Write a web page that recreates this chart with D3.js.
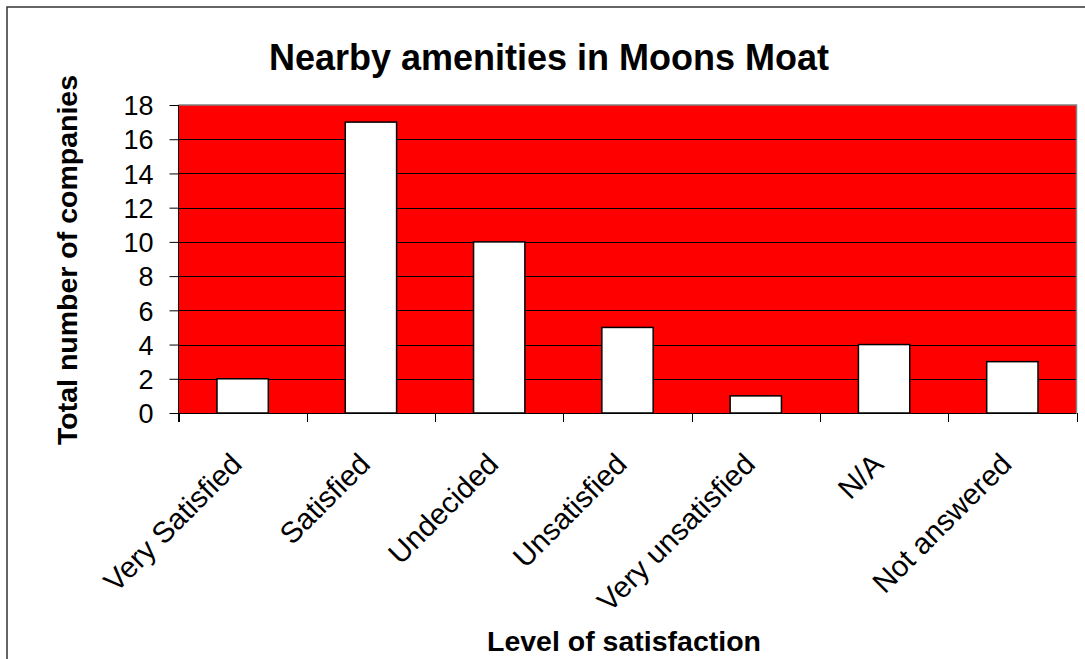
<!DOCTYPE html>
<html>
<head>
<meta charset="utf-8">
<script src="https://cdn.jsdelivr.net/npm/d3@7"></script>
<style>
  html, body { margin: 0; padding: 0; background: #fff; }
  svg { display: block; font-family: Arial, "Liberation Sans", sans-serif; }
</style>
</head>
<body>
<svg id="chart" width="1085" height="659"></svg>
<script>
const categories = ["Very Satisfied", "Satisfied", "Undecided", "Unsatisfied", "Very unsatisfied", "N/A", "Not answered"];
const values = [2, 17, 10, 5, 1, 4, 3];
const yTicks = [0, 2, 4, 6, 8, 10, 12, 14, 16, 18];
const chartTitle = "Nearby amenities in Moons Moat";
const xTitle = "Level of satisfaction";
const yTitle = "Total number of companies";

const svg = d3.select("#chart");
const plot = { left: 178.5, right: 1076.5, top: 105, bottom: 413 };

// outer border
svg.append("rect")
  .attr("x", 7).attr("y", 7)
  .attr("width", 1100).attr("height", 700)
  .attr("fill", "#fff").attr("stroke", "#333").attr("stroke-width", 1.5);

const x = d3.scaleBand().domain(categories).range([plot.left, plot.right]).paddingInner(0.6).paddingOuter(0.3);
const xb = d3.scaleBand().domain(categories).range([plot.left, plot.right]);
const y = d3.scaleLinear().domain([0, 18]).range([plot.bottom, plot.top]);

// plot area background
svg.append("rect")
  .attr("x", plot.left).attr("y", plot.top)
  .attr("width", plot.right - plot.left).attr("height", plot.bottom - plot.top)
  .attr("fill", "#FF0000");

// grid lines
svg.append("g").selectAll("line").data(yTicks.filter(d => d > 0 && d < 18)).join("line")
  .attr("x1", plot.left).attr("x2", plot.right)
  .attr("y1", d => Math.round(y(d)) + 0.5).attr("y2", d => Math.round(y(d)) + 0.5)
  .attr("stroke", "#000").attr("stroke-width", 1);

// plot border top/right (grey)
svg.append("path")
  .attr("d", `M${plot.left},${plot.top}H${plot.right}V${plot.bottom}`)
  .attr("fill", "none").attr("stroke", "#808080").attr("stroke-width", 1.5);

// bars
svg.append("g").selectAll("rect").data(values).join("rect")
  .attr("x", (d, i) => x(categories[i]))
  .attr("width", x.bandwidth())
  .attr("y", d => y(d))
  .attr("height", d => y(0) - y(d))
  .attr("fill", "#fff").attr("stroke", "#000").attr("stroke-width", 1.5);

// y axis
const yAxis = d3.axisLeft(y).tickValues(yTicks).tickSize(9).tickPadding(16).tickFormat(d3.format("d"));
const gy = svg.append("g").attr("transform", `translate(${plot.left},0)`).call(yAxis);
gy.select(".domain").remove();
gy.append("line").attr("x1", 0).attr("x2", 0).attr("y1", plot.top).attr("y2", plot.bottom + 9).attr("stroke", "#000");
gy.selectAll(".tick line").attr("stroke", "#000");
gy.selectAll(".tick text").attr("font-size", 27).attr("fill", "#000")
  .attr("font-family", "Arial, 'Liberation Sans', sans-serif").attr("dy", "0.36em");

// x axis
const gx = svg.append("g").attr("transform", `translate(0,${plot.bottom})`);
gx.append("line").attr("x1", plot.left).attr("x2", plot.right).attr("y1", 0.5).attr("y2", 0.5).attr("stroke", "#000");
const bounds = categories.map(c => xb(c)).concat([plot.right]);
gx.selectAll("line.tk").data(bounds).join("line").attr("class", "tk")
  .attr("x1", d => Math.round(d) + 0.5).attr("x2", d => Math.round(d) + 0.5)
  .attr("y1", 0).attr("y2", 9).attr("stroke", "#000");
gx.selectAll("text").data(categories).join("text")
  .attr("transform", d => `translate(${xb(d) + xb.bandwidth() / 2 + 1},${53}) rotate(-45)`)
  .attr("text-anchor", "end")
  .attr("font-size", 29.5).attr("fill", "#000")
  .text(d => d);

// titles
svg.append("text").attr("x", 549).attr("y", 70).attr("text-anchor", "middle")
  .attr("font-size", 36).attr("font-weight", "bold").text(chartTitle);
svg.append("text").attr("x", 624).attr("y", 651).attr("text-anchor", "middle")
  .attr("font-size", 28.5).attr("font-weight", "bold").text(xTitle);
svg.append("text").attr("transform", `translate(77,260) rotate(-90)`).attr("text-anchor", "middle")
  .attr("font-size", 28.5).attr("font-weight", "bold").text(yTitle);
</script>
</body>
</html>
